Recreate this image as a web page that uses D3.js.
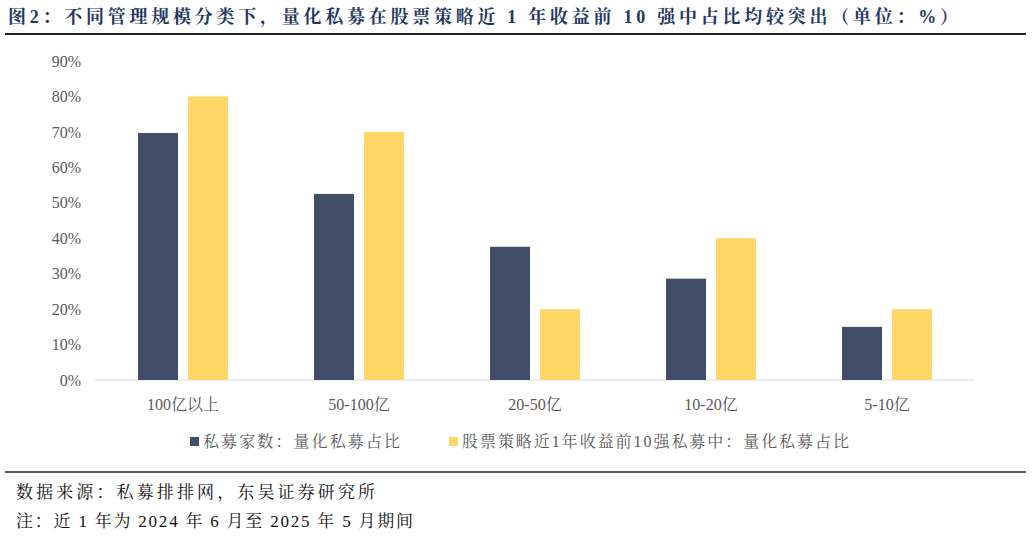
<!DOCTYPE html>
<html>
<head>
<meta charset="utf-8">
<script src="https://cdn.jsdelivr.net/npm/d3@7"></script>
<style>
  body { margin: 0; background: #fff; }
  svg { display: block; }
</style>
</head>
<body>
<svg id="chart" width="1032" height="537"></svg>
<script>
var categories = ['100亿以上', '50-100亿', '20-50亿', '10-20亿', '5-10亿']
var seriesNames = ['私募家数：量化私募占比', '股票策略近1年收益前10强私募中：量化私募占比']
var countShare = [0.697, 0.525, 0.376, 0.286, 0.15]
var top10Share = [0.80, 0.70, 0.20, 0.40, 0.20]
var yTicks = [0, 0.1, 0.2, 0.3, 0.4, 0.5, 0.6, 0.7, 0.8, 0.9]
var colors = ['#434f69', '#fed766']

var svg = d3.select('#chart')
var serif = "'Liberation Serif', 'Noto Serif CJK SC', 'Noto Sans CJK SC', serif"

svg.append('text').attr('x', 8).attr('y', 23)
  .attr('font-family', serif)
  .attr('font-weight', 'bold').attr('font-size', 18).attr('fill', '#1f3864')
  .attr('textLength', 950).attr('lengthAdjust', 'spacing')
  .text('图2：不同管理规模分类下，量化私募在股票策略近 1 年收益前 10 强中占比均较突出（单位：%）')
svg.append('line').attr('x1', 5).attr('x2', 1026).attr('y1', 34).attr('y2', 34)
  .attr('stroke', '#222').attr('stroke-width', 2)
svg.append('line').attr('x1', 5).attr('x2', 1026).attr('y1', 472).attr('y2', 472)
  .attr('stroke', '#222').attr('stroke-width', 1.5)

var x = d3.scaleBand().domain(categories).range([95, 975])
var y = d3.scaleLinear().domain([0, 0.9]).range([380, 61])

svg.append('g').attr('transform', 'translate(95,0)')
  .call(d3.axisLeft(y).tickValues(yTicks).tickSize(0).tickPadding(14).tickFormat(d3.format('.0%')))
  .call(g => g.select('.domain').remove())
  .selectAll('text').attr('font-family', serif).attr('font-size', 16).attr('fill', '#595959')

svg.append('line').attr('x1', 95).attr('x2', 975).attr('y1', y(0)).attr('y2', y(0))
  .attr('stroke', '#d9d9d9')

var bw = 40, gap = 10
;[countShare, top10Share].forEach(function (vals, si) {
  svg.append('g').selectAll('rect').data(vals).join('rect')
    .attr('x', (d, i) => x(categories[i]) + x.bandwidth() / 2 - bw - gap / 2 + si * (bw + gap))
    .attr('y', d => y(d))
    .attr('width', bw)
    .attr('height', d => y(0) - y(d))
    .attr('fill', colors[si])
})

svg.append('g').selectAll('text').data(categories).join('text')
  .attr('x', d => x(d) + x.bandwidth() / 2).attr('y', 410)
  .attr('text-anchor', 'middle').attr('font-family', serif).attr('font-size', 16).attr('fill', '#595959')
  .text(d => d)

var legX = [190, 449], legW = [197, 387]
seriesNames.forEach(function (n, i) {
  svg.append('rect').attr('x', legX[i]).attr('y', 437).attr('width', 9).attr('height', 9).attr('fill', colors[i])
  svg.append('text').attr('x', legX[i] + 13).attr('y', 447)
    .attr('font-family', serif).attr('font-size', 16).attr('fill', '#595959')
    .attr('textLength', legW[i]).attr('lengthAdjust', 'spacing').text(n)
})

svg.append('text').attr('x', 16).attr('y', 498).attr('font-family', serif).attr('font-size', 17).attr('fill', '#111')
  .attr('textLength', 359).attr('lengthAdjust', 'spacing')
  .text('数据来源：私募排排网，东吴证券研究所')
svg.append('text').attr('x', 16).attr('y', 527).attr('font-family', serif).attr('font-size', 17).attr('fill', '#111')
  .attr('textLength', 397).attr('lengthAdjust', 'spacing')
  .text('注：近 1 年为 2024 年 6 月至 2025 年 5 月期间')
</script>
</body>
</html>
